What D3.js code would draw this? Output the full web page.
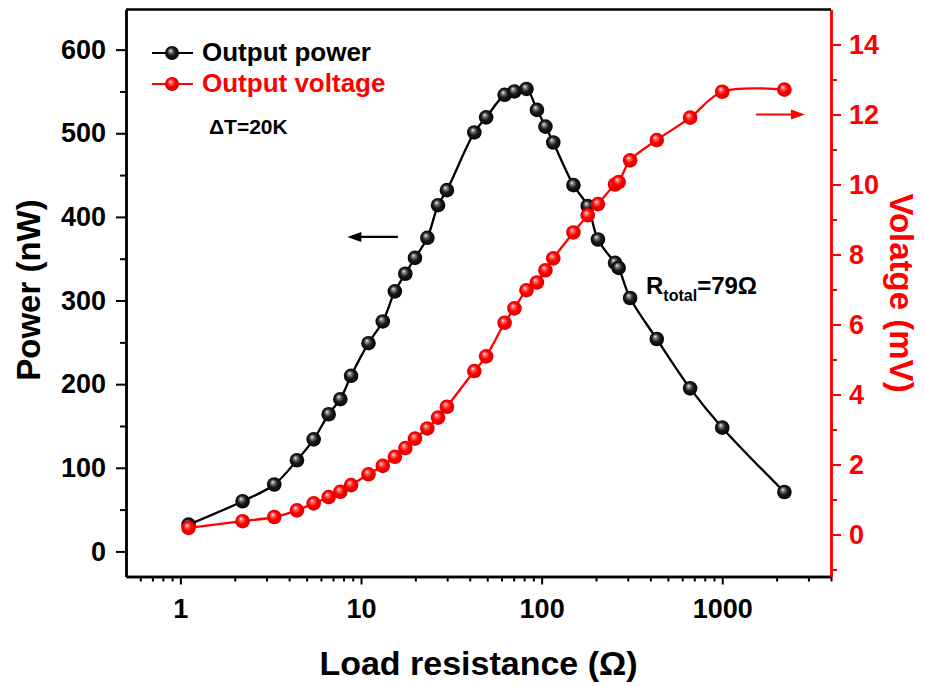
<!DOCTYPE html>
<html lang="en">
<head>
<meta charset="utf-8">
<title>Output power and voltage vs load resistance</title>
<script src="https://cdn.jsdelivr.net/npm/d3@7"></script>
<style>
  body { margin: 0; background: #fff; }
  svg text { font-family: "Liberation Sans", Arial, sans-serif; font-weight: bold; }
</style>
</head>
<body>
<div id="chart"></div>
<script>

// load resistance (Ohm), shared by both series
var resistance = [1.11, 2.21, 3.31, 4.42, 5.47, 6.62, 7.68, 8.81, 11.0, 13.2, 15.4, 17.6, 19.9, 23.3,
    26.7, 29.9, 42.4, 49.3, 62.4, 70.7, 82.4, 94.2, 105, 116, 150, 180, 205, 255, 267, 309, 434, 664, 1000, 2208];
// output power (nW)
var power = [32, 60, 80, 109, 134, 164, 182, 210, 249, 275, 311, 332, 351, 375,
    414, 432, 501, 519, 546, 550, 553, 528, 508, 489, 438, 413, 373, 345, 339, 303, 254, 195, 148, 71];
// output voltage (mV)
var voltage = [0.19, 0.38, 0.50, 0.69, 0.89, 1.07, 1.22, 1.41, 1.72, 1.96, 2.22, 2.47, 2.74, 3.03,
    3.34, 3.65, 4.67, 5.09, 6.05, 6.46, 6.98, 7.2, 7.55, 7.89, 8.63, 9.12, 9.44, 10.0, 10.07, 10.69, 11.27, 11.91, 12.65, 12.71];

var xMajorTicks = [1, 10, 100, 1000];
var xMinorTicks = [0.6, 0.7, 0.8, 0.9, 2, 3, 4, 5, 6, 7, 8, 9, 20, 30, 40, 50, 60, 70, 80, 90,
    200, 300, 400, 500, 600, 700, 800, 900, 2000, 3000, 4000];
var powerTicks = [0, 100, 200, 300, 400, 500, 600];
var powerMinorTicks = [50, 150, 250, 350, 450, 550];
var voltageTicks = [0, 2, 4, 6, 8, 10, 12, 14];
var voltageMinorTicks = [-1, 1, 3, 5, 7, 9, 11, 13];

var W = 925, H = 686;
var margin = {top: 9.5, right: 94, bottom: 109.5, left: 126};
var x0 = margin.left, x1 = W - margin.right, y0 = margin.top, y1 = H - margin.bottom;

var svg = d3.select("#chart").append("svg")
    .attr("width", W)
    .attr("height", H);

var x = d3.scaleLog().domain([0.5, 4000]).range([x0, x1]);
var yP = d3.scaleLinear().domain([-30, 648]).range([y1, y0]);
var yV = d3.scaleLinear().domain([-1.2, 15]).range([y1, y0]);

// sphere-like marker fills
var defs = svg.append("defs");
function ball(id, stops) {
    var g = defs.append("radialGradient").attr("id", id)
        .attr("cx", "50%").attr("cy", "50%").attr("r", "55%")
        .attr("fx", "38%").attr("fy", "32%");
    stops.forEach(function(s) {
        g.append("stop").attr("offset", s[0]).attr("stop-color", s[1]);
    });
}
ball("ballBlack", [["0%", "#f0f0f0"], ["20%", "#858585"], ["52%", "#1a1a1a"], ["100%", "#000"]]);
ball("ballRed", [["0%", "#fff0f0"], ["20%", "#ff7070"], ["52%", "#ff0000"], ["100%", "#d80000"]]);

function styleAxis(g, color, size) {
    g.attr("font-size", size).attr("font-family", null);
    g.selectAll("path.domain").attr("stroke", color).attr("stroke-width", 2.5);
    g.selectAll(".tick line").attr("stroke", color).attr("stroke-width", 2);
    g.selectAll(".tick text").attr("fill", color);
}

// bottom axis (log)
var bx = svg.append("g").attr("transform", "translate(0," + y1 + ")");
bx.append("g").call(d3.axisBottom(x).tickValues(xMinorTicks).tickSize(5).tickSizeOuter(0).tickFormat(""))
    .call(styleAxis, "#000", 27);
bx.append("g").call(d3.axisBottom(x).tickValues(xMajorTicks).tickSize(8).tickSizeOuter(0).tickPadding(14).tickFormat(d3.format("d")))
    .call(styleAxis, "#000", 27);

// left axis (power)
var ly = svg.append("g").attr("transform", "translate(" + x0 + ",0)");
ly.append("g").call(d3.axisLeft(yP).tickValues(powerMinorTicks).tickSize(6).tickSizeOuter(0).tickFormat(""))
    .call(styleAxis, "#000", 27);
ly.append("g").call(d3.axisLeft(yP).tickValues(powerTicks).tickSize(10).tickSizeOuter(0).tickPadding(10))
    .call(styleAxis, "#000", 27);

// right axis (voltage)
var ry = svg.append("g").attr("transform", "translate(" + x1 + ",0)");
ry.append("g").call(d3.axisRight(yV).tickValues(voltageMinorTicks).tickSize(6).tickSizeOuter(0).tickFormat(""))
    .call(styleAxis, "#f00", 27);
ry.append("g").call(d3.axisRight(yV).tickValues(voltageTicks).tickSize(10).tickSizeOuter(0).tickPadding(8))
    .call(styleAxis, "#f00", 27);

// top border
svg.append("line")
    .attr("x1", x0).attr("x2", x1).attr("y1", y0).attr("y2", y0)
    .attr("stroke", "#000").attr("stroke-width", 2.5);

// axis titles
svg.append("text")
    .attr("x", (x0 + x1) / 2).attr("y", 675)
    .attr("text-anchor", "middle").attr("font-size", 34)
    .text("Load resistance (\u03A9)");
svg.append("text")
    .attr("transform", "translate(40," + ((y0 + y1) / 2 - 3) + ") rotate(-90)")
    .attr("text-anchor", "middle").attr("font-size", 33)
    .text("Power (nW)");
svg.append("text")
    .attr("transform", "translate(890," + ((y0 + y1) / 2) + ") rotate(90)")
    .attr("text-anchor", "middle").attr("font-size", 33).attr("fill", "#f00")
    .text("Volatge (mV)");

// series
var powerData = resistance.map(function(r, i) { return {r: r, v: power[i]}; });
var voltageData = resistance.map(function(r, i) { return {r: r, v: voltage[i]}; });

function drawSeries(data, yScale, color, fillId) {
    svg.append("path")
        .datum(data)
        .attr("fill", "none")
        .attr("stroke", color)
        .attr("stroke-width", 2.3)
        .attr("d", d3.line()
            .x(function(d) { return x(d.r); })
            .y(function(d) { return yScale(d.v); })
            .curve(d3.curveCatmullRom.alpha(0.5)));
    svg.append("g").selectAll("circle")
        .data(data)
        .enter().append("circle")
        .attr("cx", function(d) { return x(d.r); })
        .attr("cy", function(d) { return yScale(d.v); })
        .attr("r", 7.3)
        .attr("fill", "url(#" + fillId + ")");
}
drawSeries(powerData, yP, "#000", "ballBlack");
drawSeries(voltageData, yV, "#f00", "ballRed");

// legend
var legend = [
    {label: "Output power", color: "#000", fill: "ballBlack", y: 53},
    {label: "Output voltage", color: "#f00", fill: "ballRed", y: 84}
];
legend.forEach(function(l) {
    svg.append("line")
        .attr("x1", 152).attr("x2", 193).attr("y1", l.y).attr("y2", l.y)
        .attr("stroke", l.color).attr("stroke-width", 2.2);
    svg.append("circle")
        .attr("cx", 172).attr("cy", l.y).attr("r", 7)
        .attr("fill", "url(#" + l.fill + ")");
    svg.append("text")
        .attr("x", 202).attr("y", l.y + 8)
        .attr("font-size", 26).attr("fill", l.color)
        .text(l.label);
});

// annotations
svg.append("text")
    .attr("x", 209).attr("y", 134)
    .attr("font-size", 21)
    .text("\u0394T=20K");

var rt = svg.append("text")
    .attr("x", 646).attr("y", 294)
    .attr("font-size", 24);
rt.append("tspan").text("R");
rt.append("tspan").attr("font-size", 16).attr("dy", 7).text("total");
rt.append("tspan").attr("dy", -7).text("=79\u03A9");

// arrows pointing to each series' axis
function arrow(xa, xb, yy, color) {
    var dir = xb > xa ? 1 : -1;
    svg.append("line")
        .attr("x1", xa).attr("x2", xb - dir * 10).attr("y1", yy).attr("y2", yy)
        .attr("stroke", color).attr("stroke-width", 2.2);
    svg.append("path")
        .attr("d", "M" + xb + "," + yy + "L" + (xb - dir * 14) + "," + (yy - 5) + "L" + (xb - dir * 14) + "," + (yy + 5) + "Z")
        .attr("fill", color);
}
arrow(x(16), x(8.4), yP(376), "#000");
arrow(x(1540), x(2870), yV(12), "#f00");

</script>
</body>
</html>
